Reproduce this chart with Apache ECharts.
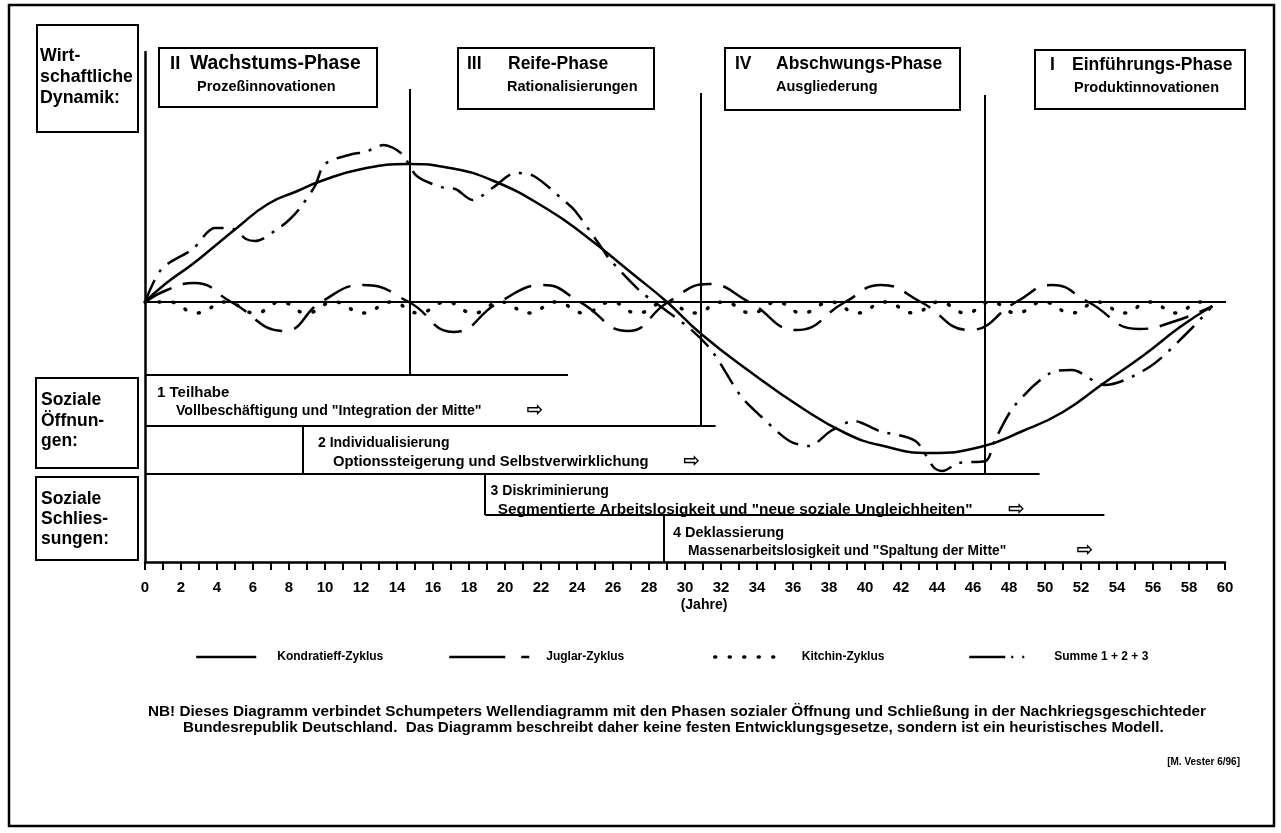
<!DOCTYPE html>
<html>
<head>
<meta charset="utf-8">
<title>Wellendiagramm</title>
<script src="https://cdn.jsdelivr.net/npm/echarts@6/dist/echarts.min.js"></script>
<style>
html, body { margin: 0; padding: 0; background: #fff; }
#chart { width: 1281px; height: 833px; }
</style>
</head>
<body>
<div id="chart"></div>
<script>
const FONT = '"Liberation Sans", Arial, "DejaVu Sans", sans-serif'

// Zyklen: [Jahr, Ausschlag]
const kondratieff = [[0, 0], [1.12, 1.8], [2.65, 3.8], [3.88, 5.6], [5.1, 7.4], [6.83, 9.8], [8.47, 11.1],
  [9.79, 12.1], [12.04, 13.3], [14.6, 13.8], [16.93, 13.4], [19.38, 12.1], [22.34, 9.3], [24.48, 6.6],
  [27.1, 2.8], [29.0, 0], [30.9, -3.2], [33.56, -6.9], [36.5, -10.6], [38.9, -13.1], [40.8, -14.3],
  [43.6, -15.1], [46.4, -14.5], [48.76, -12.9], [51.0, -11.0], [53.2, -8.2], [55.5, -5.3], [57.5, -2.5],
  [59.3, -0.4]]

const juglar = [[0, 0], [1.22, 1.2], [2.75, 1.9], [4.79, 0], [7.75, -2.9], [9.79, 0], [12.14, 1.7], [14.65, 0],
  [17.14, -3.0], [19.69, 0], [22.13, 1.7], [24.17, 0], [26.83, -2.9], [29.07, 0], [31.3, 1.8], [33.56, 0],
  [36.2, -2.8], [38.9, 0], [40.9, 1.7], [43.1, 0], [45.8, -2.8], [48.4, 0], [50.4, 1.7], [52.4, 0],
  [55.2, -2.7], [57.25, -1.9], [59.3, -0.4]]

const kitchin = [[0, 0], [1.33, 0], [2.86, -1.1], [4.49, 0], [6.12, -1.1], [7.55, 0], [8.98, -1.1], [10.5, 0],
  [12.14, -1.1], [13.67, 0], [15.2, -1.1], [16.73, 0], [18.26, -1.1], [19.79, 0], [21.32, -1.1], [22.85, 0],
  [24.38, -1.1], [25.9, 0], [27.34, -1.1], [28.97, 0], [30.5, -1.1], [32.13, 0], [33.7, -1.1], [35.1, 0],
  [36.5, -1.1], [38.1, 0], [39.6, -1.1], [41.1, 0], [42.7, -1.1], [44.1, 0], [45.6, -1.1], [47.0, 0],
  [48.4, -1.1], [49.9, 0], [51.5, -1.1], [52.9, 0], [54.4, -1.1], [55.8, 0], [57.3, -1.1], [58.6, 0], [59.3, -0.4]]

const summe = [[0, 0], [0.92, 3.3], [2.65, 5.3], [3.88, 7.4], [4.9, 7.3], [5.61, 6.3], [6.12, 6.1], [7.45, 7.4],
  [8.06, 8.3], [8.57, 9.3], [9.44, 11.6], [10.0, 13.8], [11.53, 14.8], [12.24, 15.0], [13.26, 15.7],
  [14.28, 14.8], [15.1, 12.6], [16.63, 11.4], [17.24, 11.3], [18.2, 10.2], [19.3, 11.4], [20.6, 12.9],
  [21.6, 12.6], [23.3, 10.1], [23.9, 9.1], [25.3, 5.6], [25.8, 4.3], [27.5, 1.1], [28.3, 0], [30.3, -2.7],
  [31.5, -4.9], [33.1, -9.4], [34.2, -11.4], [35.8, -13.9], [36.9, -14.4], [38.1, -12.9], [39.4, -11.9],
  [40.8, -12.9], [42.8, -13.9], [43.8, -16.5], [44.3, -16.9], [45.2, -16.1], [46.7, -15.9], [47.2, -13.9],
  [48.3, -10.4], [50.3, -7.1], [51.5, -6.8], [53.3, -8.3], [55.8, -6.5], [58.0, -2.9], [59.3, -0.4]]

const seriesNames = ['Kondratieff-Zyklus', 'Juglar-Zyklus', 'Kitchin-Zyklus', 'Summe 1 + 2 + 3']

// Phasengrenzen (Jahre) mit oberem / unterem Ende
const phaseYears = [14.72, 30.9, 46.67]
const phaseTop = [21.3, 20.9, 20.7]
const phaseBottom = [-7.3, -12.4, -17.2]

// soziale Öffnungen / Schliessungen
const socialTitles = ['1 Teilhabe', '2 Individualisierung', '3 Diskriminierung', '4 Deklassierung']
const socialTexts = [
  'Vollbeschäftigung und "Integration der Mitte"',
  'Optionssteigerung und Selbstverwirklichung',
  'Segmentierte Arbeitslosigkeit und "neue soziale Ungleichheiten"',
  'Massenarbeitslosigkeit und "Spaltung der Mitte"'
]
const socialStart = [0, 8.78, 18.9, 28.83]
const socialLevel = [-7.3, -12.4, -17.2, -21.3]
const socialLineStart = [0, 0, 0, 18.9]
const socialLineEnd = [23.5, 31.7, 49.7, 53.3]
const socialArrow = [21.2, 29.9, 47.95, 51.75]

const yMin = -26
const yMax = 25

function buildSegments() {
  const segs = [{ coords: [[0, 0], [60.2, 0]] }]
  phaseYears.forEach((x, i) => {
    segs.push({ coords: [[x, phaseTop[i]], [x, phaseBottom[i]]] })
  })
  socialLevel.forEach((y, k) => {
    segs.push({ coords: [[socialLineStart[k], y], [socialLineEnd[k], y]] })
    if (k > 0) {
      const yEnd = k + 1 < socialLevel.length ? socialLevel[k + 1] : yMin
      segs.push({ coords: [[socialStart[k], y], [socialStart[k], yEnd]] })
    }
  })
  return segs
}

function buildLabels() {
  const headDx = [0.67, 0.83, 0.3, 0.5]
  const headSize = [15, 14, 14, 14.5]
  const textDx = [1.72, 1.66, 0.7, 1.34]
  const textSize = [14.2, 14.8, 15.4, 13.8]
  const items = []
  socialTitles.forEach((t, k) => {
    items.push({ name: t, value: [socialStart[k] + headDx[k], socialLevel[k] - 1.75], label: { fontSize: headSize[k] } })
    items.push({ name: socialTexts[k], value: [socialStart[k] + textDx[k], socialLevel[k] - 3.6], label: { fontSize: textSize[k] } })
    items.push({ name: '⇨', value: [socialArrow[k], socialLevel[k] - 3.6], label: { fontSize: 20, fontFamily: '"DejaVu Sans", sans-serif' } })
  })
  return items
}

function txt(text, x, y, size, align) {
  return {
    type: 'text',
    x: x,
    y: y,
    silent: true,
    style: {
      text: text,
      font: 'bold ' + size + 'px ' + FONT,
      fill: '#000',
      textAlign: align || 'left',
      textVerticalAlign: 'middle',
      align: align || 'left',
      verticalAlign: 'middle'
    }
  }
}

function box(x, y, w, h, lw) {
  return {
    type: 'rect',
    silent: true,
    shape: { x: x, y: y, width: w, height: h },
    style: { fill: 'none', stroke: '#000', lineWidth: lw || 2 }
  }
}

const chart = echarts.init(document.getElementById('chart'))

const legendLeft = [195, 448, 713, 968]
const legendWidth = [60, 84, 60, 56]
const legendGap = [16, 8, 22, 24]
const legendDash = ['solid', [56, 16, 8, 100], [1, 13.5], [36, 6, 2, 9, 2, 100]]

const option = {
  backgroundColor: '#fff',
  animation: false,
  grid: { left: 145, right: 56, top: 52, bottom: 271 },
  xAxis: {
    type: 'value',
    min: 0,
    max: 60,
    interval: 2,
    axisLine: { onZero: false, lineStyle: { color: '#000', width: 2.5 } },
    axisTick: { show: true, length: 8, inside: false, lineStyle: { color: '#000', width: 2 } },
    minorTick: { show: true, splitNumber: 2, length: 8, lineStyle: { color: '#000', width: 2 } },
    splitLine: { show: false },
    axisLabel: { color: '#000', fontFamily: FONT, fontWeight: 'bold', fontSize: 15, margin: 18 }
  },
  yAxis: {
    type: 'value',
    min: yMin,
    max: yMax,
    axisLine: { show: true, onZero: false, lineStyle: { color: '#000', width: 2.5 } },
    axisTick: { show: false },
    axisLabel: { show: false },
    splitLine: { show: false }
  },
  legend: seriesNames.map((name, i) => ({
    data: [name],
    left: legendLeft[i],
    top: 651,
    padding: 0,
    itemWidth: legendWidth[i],
    itemHeight: 12,
    selectedMode: false,
    lineStyle: { color: '#000', width: i === 2 ? 3.5 : 2.5, type: legendDash[i], cap: i === 2 ? 'round' : 'butt' },
    itemStyle: { color: 'transparent', borderWidth: 0 },
    textStyle: { color: '#000', fontFamily: FONT, fontWeight: 'bold', fontSize: 12, padding: [0, 0, 0, legendGap[i]] }
  })),
  graphic: [
    box(9, 5, 1265, 821, 2.5),
    box(37, 25, 101, 107),
    txt('Wirt-', 40, 56, 17.8),
    txt('schaftliche', 40, 77, 17.8),
    txt('Dynamik:', 40, 98, 17.8),
    box(36, 378, 102, 90),
    txt('Soziale', 41, 400, 17.5),
    txt('Öffnun-', 41, 421, 17.5),
    txt('gen:', 41, 441, 17.5),
    box(36, 477, 102, 83),
    txt('Soziale', 41, 499, 17.5),
    txt('Schlies-', 41, 519, 17.5),
    txt('sungen:', 41, 539, 17.5),
    box(159, 48, 218, 59),
    txt('II', 170, 64, 18.5),
    txt('Wachstums-Phase', 190, 64, 19.3),
    txt('Prozeßinnovationen', 197, 87, 14.5),
    box(458, 48, 196, 61),
    txt('III', 467, 64, 17.5),
    txt('Reife-Phase', 508, 64, 17.5),
    txt('Rationalisierungen', 507, 87, 14.5),
    box(725, 48, 235, 62),
    txt('IV', 735, 64, 17.5),
    txt('Abschwungs-Phase', 776, 64, 17.5),
    txt('Ausgliederung', 776, 87, 14.5),
    box(1035, 50, 210, 59),
    txt('I', 1050, 65, 17.5),
    txt('Einführungs-Phase', 1072, 65, 17.5),
    txt('Produktinnovationen', 1074, 88, 14.5),
    txt('(Jahre)', 704, 605, 14, 'center'),
    txt('NB! Dieses Diagramm verbindet Schumpeters Wellendiagramm mit den Phasen sozialer Öffnung und Schließung in der Nachkriegsgeschichteder', 148, 712, 15.3),
    txt('Bundesrepublik Deutschland.  Das Diagramm beschreibt daher keine festen Entwicklungsgesetze, sondern ist ein heuristisches Modell.', 183, 728, 15.2),
    txt('[M. Vester 6/96]', 1240, 762, 10, 'right')
  ],
  series: [
    {
      type: 'lines',
      coordinateSystem: 'cartesian2d',
      silent: true,
      z: 1,
      lineStyle: { color: '#000', width: 2, opacity: 1, curveness: 0 },
      data: buildSegments()
    },
    {
      name: seriesNames[0],
      type: 'line',
      data: kondratieff,
      smooth: 0.5,
      symbol: 'none',
      z: 3,
      lineStyle: { color: '#000', width: 2.5, type: 'solid' }
    },
    {
      name: seriesNames[1],
      type: 'line',
      data: juglar,
      smooth: 0.5,
      symbol: 'none',
      z: 3,
      lineStyle: { color: '#000', width: 2.5, type: [30, 12] }
    },
    {
      name: seriesNames[2],
      type: 'line',
      data: kitchin,
      smooth: 0.5,
      symbol: 'none',
      z: 3,
      lineStyle: { color: '#000', width: 3.5, type: [1, 13], cap: 'round' }
    },
    {
      name: seriesNames[3],
      type: 'line',
      data: summe,
      smooth: 0.3,
      symbol: 'none',
      z: 3,
      lineStyle: { color: '#000', width: 2.5, type: [24, 9, 3, 9] }
    },
    {
      type: 'scatter',
      silent: true,
      symbolSize: 0,
      z: 4,
      itemStyle: { opacity: 1 },
      label: {
        show: true,
        position: 'right',
        distance: 0,
        color: '#000',
        opacity: 1,
        fontFamily: FONT,
        fontWeight: 'bold',
        fontSize: 14,
        formatter: (p) => p.name
      },
      data: buildLabels()
    }
  ]
}

chart.setOption(option)
</script>
</body>
</html>
